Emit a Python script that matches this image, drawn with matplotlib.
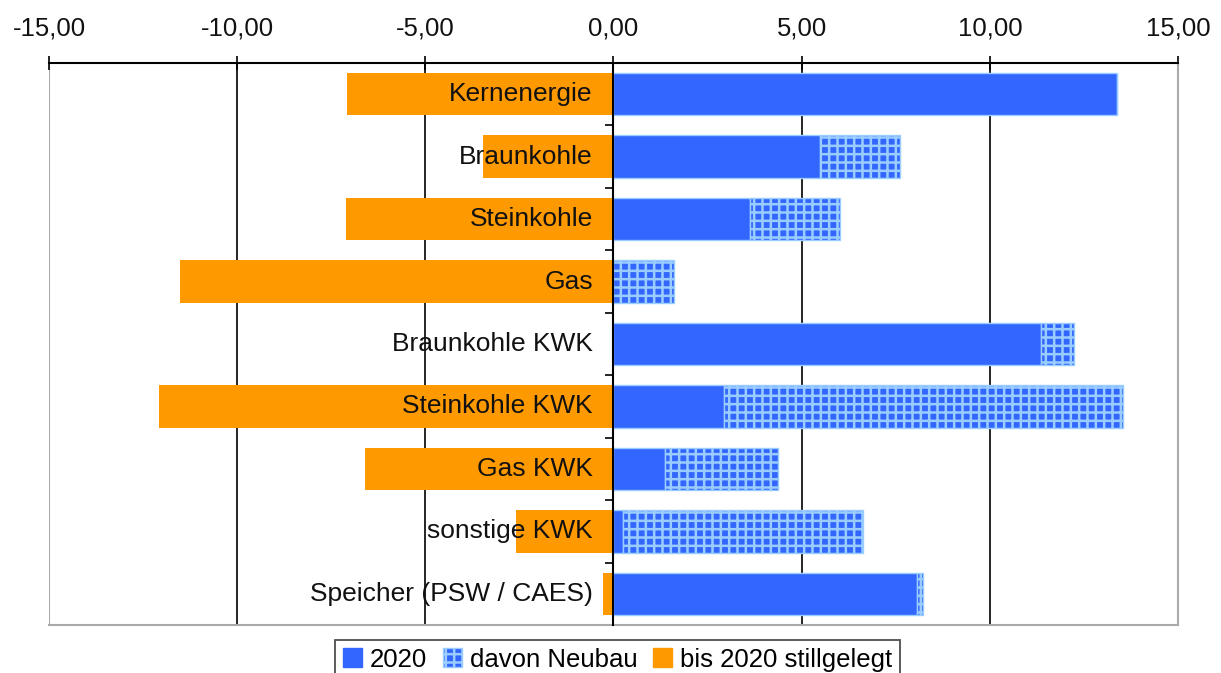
import matplotlib
matplotlib.use("Agg")
import matplotlib.pyplot as plt
import numpy as np
from matplotlib.patches import Patch
from matplotlib.ticker import FixedLocator, FuncFormatter

categories = ['Kernenergie', 'Braunkohle', 'Steinkohle', 'Gas', 'Braunkohle KWK',
              'Steinkohle KWK', 'Gas KWK', 'sonstige KWK', 'Speicher (PSW / CAES)']
stillgelegt = [-7.07, -3.48, -7.10, -11.52, 0.0, -12.07, -6.60, -2.60, -0.29]
bestand_2020 = [13.38, 5.50, 3.64, 0.0, 11.36, 2.93, 1.36, 0.24, 8.06]
neubau = [0.0, 2.10, 2.37, 1.62, 0.87, 10.61, 3.00, 6.38, 0.16]
xticks = [-15, -10, -5, 0, 5, 10, 15]

BLUE = '#3366ff'
LIGHT = '#99ccff'
ORANGE = '#ff9900'

plt.rcParams['font.family'] = ['Liberation Sans', 'DejaVu Sans']
plt.rcParams['hatch.linewidth'] = 1.8

fig = plt.figure(figsize=(12.21, 6.73), dpi=100)
ax = fig.add_axes([0.0401, 0.0713, 0.9247, 0.8351])

y = np.arange(len(categories))
h = 0.68

ax.barh(y, stillgelegt, height=h, color=ORANGE, edgecolor='none', zorder=2)
ax.barh(y, bestand_2020, height=h, color=BLUE, edgecolor=LIGHT, linewidth=1.0, zorder=2)
ax.barh(y, neubau, left=bestand_2020, height=h, color=BLUE, edgecolor=LIGHT,
        linewidth=1.0, hatch='++', zorder=2)

for yi, name in zip(y, categories):
    ax.text(-0.55, yi, name, ha='right', va='center', fontsize=19, color='#111111', zorder=4)

ax.set_xlim(-15, 15)
ax.set_ylim(len(categories) - 0.5, -0.5)

# grid lines
for gx in [-10, -5, 5, 10]:
    ax.axvline(gx, color='black', linewidth=1.2, zorder=1)

# frame
for s in ['right', 'bottom']:
    ax.spines[s].set_color('#aaaaaa')
    ax.spines[s].set_linewidth(1.5)
ax.spines['top'].set_color('black')
ax.spines['top'].set_linewidth(1.5)
ax.spines['left'].set_position(('data', 0))
ax.spines['left'].set_color('black')
ax.spines['left'].set_linewidth(1.5)
ax.spines['left'].set_zorder(3)
ax.axvline(-15, color='#aaaaaa', linewidth=1.5, zorder=1)

ax.xaxis.set_ticks_position('top')
ax.xaxis.set_major_locator(FixedLocator(xticks))
ax.xaxis.set_major_formatter(FuncFormatter(lambda v, p: f"{v:.2f}".replace('.', ',')))
ax.tick_params(axis='x', direction='inout', length=10, width=1.2, pad=11, labelsize=18.5,
               labelcolor='#111111')

ax.yaxis.set_major_locator(FixedLocator([]))
ax.yaxis.set_minor_locator(FixedLocator(np.arange(0.5, len(categories) - 0.5, 1)))
ax.tick_params(axis='y', which='minor', direction='out', length=6, width=1.2, labelleft=False)

handles = [Patch(facecolor=BLUE, edgecolor=BLUE),
           Patch(facecolor=BLUE, edgecolor=LIGHT, hatch='++'),
           Patch(facecolor=ORANGE, edgecolor=ORANGE)]
labels = ['2020', 'davon Neubau', 'bis 2020 stillgelegt']
leg = fig.legend(handles, labels, loc='upper center', bbox_to_anchor=(0.5057, 0.049),
                 ncol=3, fontsize=18.5, frameon=True, fancybox=False,
                 handlelength=0.75, handleheight=0.75, handletextpad=0.3,
                 columnspacing=0.6, borderpad=0.3, borderaxespad=0)
leg.get_frame().set_edgecolor('#222222')
leg.get_frame().set_linewidth(1.3)

fig.savefig('out.png', dpi=100)
